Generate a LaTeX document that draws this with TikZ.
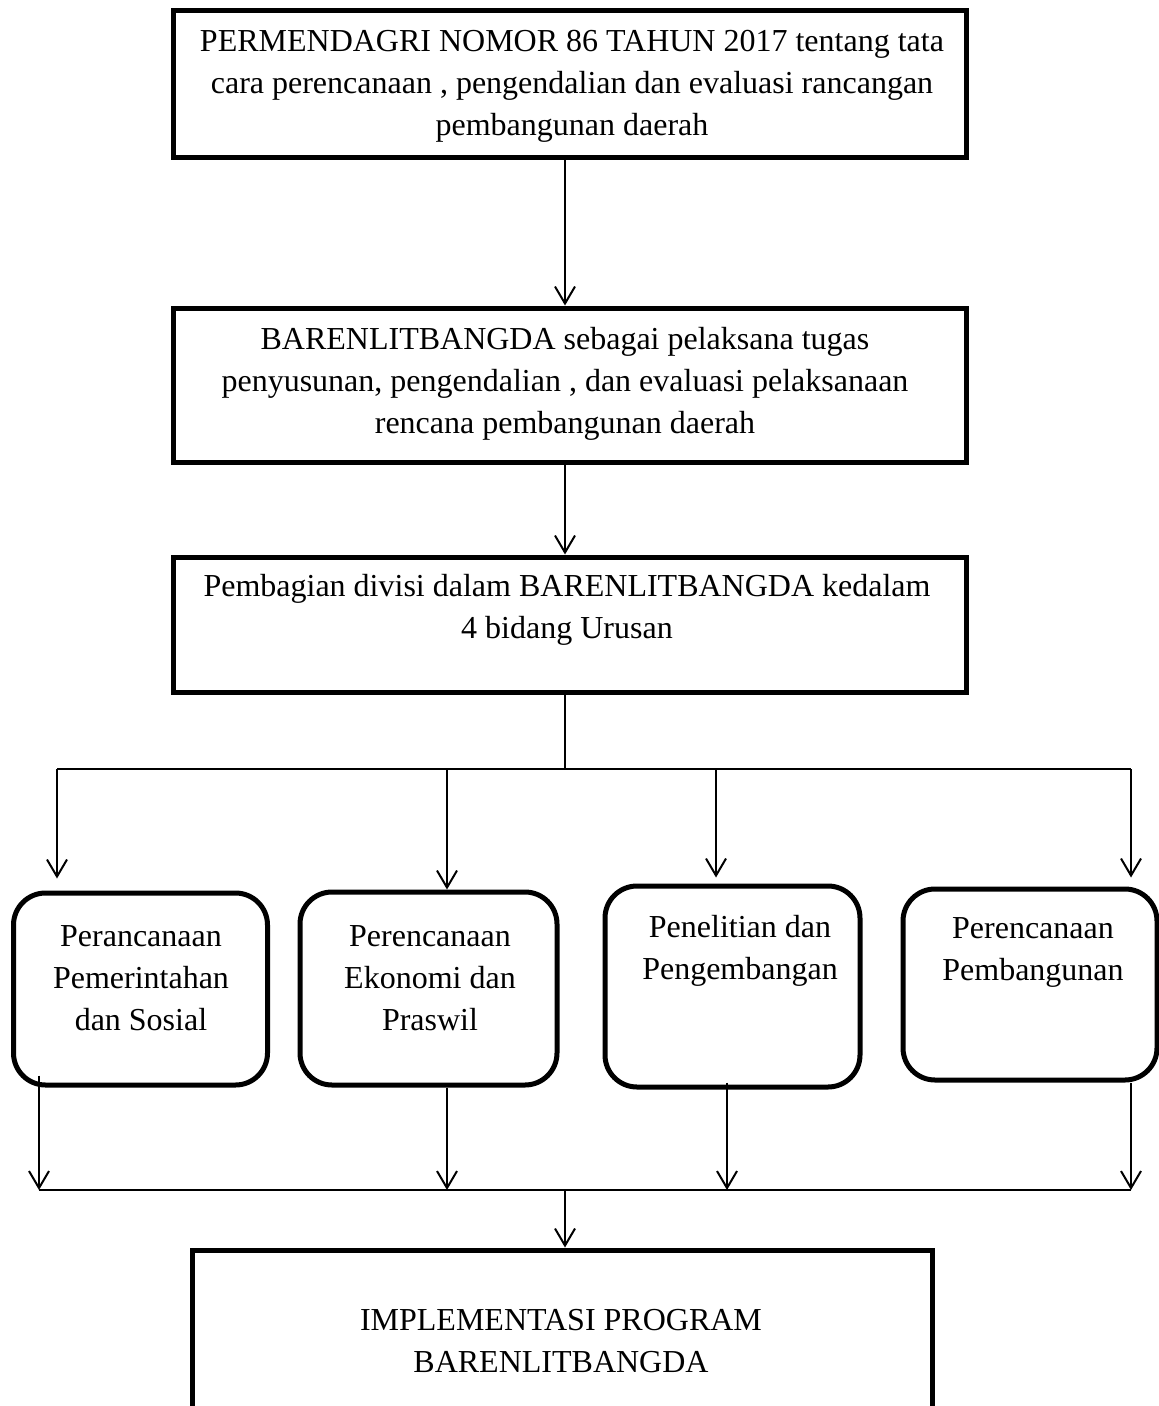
\documentclass[tikz,border=0pt]{standalone}
\usepackage{fontspec}
\setmainfont{Liberation Serif}
\usetikzlibrary{arrows.meta,calc}
\begin{document}
\begin{tikzpicture}[x=1pt,y=-1pt,
  sqbox/.style={draw,line width=5pt,rectangle,inner sep=0pt},
  rbox/.style={draw,line width=5pt,rectangle,rounded corners=32pt,inner sep=0pt},
  txt/.style={align=center,font=\fontsize{32}{42}\selectfont,inner sep=0pt},
  conn/.style={line width=2pt},
  arr/.style={line width=2pt,-{Straight Barb[length=17pt,width=20pt]}}]
\useasboundingbox (0,0) rectangle (1159,1406);
\clip (0,0) rectangle (1159,1406);

% main boxes
\node[sqbox,minimum width=793pt,minimum height=147pt] (box1) at (569.5,83.5) {};
\node[sqbox,minimum width=793pt,minimum height=154pt] (box2) at (569.5,385) {};
\node[sqbox,minimum width=793pt,minimum height=135pt] (box3) at (569.5,624.5) {};
\node[sqbox,minimum width=740pt,minimum height=180pt] (box4) at (562,1340) {};

% rounded boxes
\node[rbox,minimum width=254pt,minimum height=192pt] (r1) at (140.5,989) {};
\node[rbox,minimum width=257pt,minimum height=193pt] (r2) at (428.5,988.5) {};
\node[rbox,minimum width=255pt,minimum height=201pt] (r3) at (732.5,986.5) {};
\node[rbox,minimum width=254pt,minimum height=191pt] (r4) at (1030,984.5) {};

% texts
\node[txt] (t1) at (572,86) {PERMENDAGRI NOMOR 86 TAHUN 2017 tentang tata\\cara perencanaan , pengendalian dan evaluasi rancangan\\pembangunan daerah};
\node[txt] (t2) at (565,384) {BARENLITBANGDA sebagai pelaksana tugas\\penyusunan, pengendalian , dan evaluasi pelaksanaan\\rencana pembangunan daerah};
\node[txt] (t3) at (567,610) {Pembagian divisi dalam BARENLITBANGDA kedalam\\4 bidang Urusan};
\node[txt] (tr1) at (141,978) {Perancanaan\\Pemerintahan\\dan Sosial};
\node[txt] (tr2) at (430,978) {Perencanaan\\Ekonomi dan\\Praswil};
\node[txt] (tr3) at (740,951) {Penelitian dan\\Pengembangan};
\node[txt] (tr4) at (1033,952) {Perencanaan\\Pembangunan};
\node[txt] (t4) at (561,1341) {IMPLEMENTASI PROGRAM\\BARENLITBANGDA};

% junction coordinates
\coordinate (tx) at (565,0);
\coordinate (split) at (565,769);
\coordinate (a1) at (57,769);
\coordinate (a2) at (447,769);
\coordinate (a3) at (716,769);
\coordinate (a4) at (1131,769);
\coordinate (b1) at (39,1190);
\coordinate (b2) at (447,1190);
\coordinate (b3) at (727,1190);
\coordinate (b4) at (1131,1190);
\coordinate (merge) at (565,1190);

% top chain
\draw[arr] (box1.south -| tx) -- (box2.north -| tx);
\draw[arr] (box2.south -| tx) -- (box3.north -| tx);
\draw[conn] (box3.south -| tx) -- (split);
\draw[conn] (a1) -- (a4);

% into rounded boxes
\draw[arr] (a1) -- ($(r1.north -| a1)+(0,-12)$);
\draw[arr] (a2) -- (r2.north -| a2);
\draw[arr] (a3) -- ($(r3.north -| a3)+(0,-6)$);
\draw[arr] (a4) -- ($(r4.north -| a4)+(0,-9)$);

% out of rounded boxes
\draw[arr] ($(r1.south -| b1)+(0,-12)$) -- (b1);
\draw[arr] (r2.south -| b2) -- (b2);
\draw[arr] ($(r3.south -| b3)+(0,-7)$) -- (b3);
\draw[arr] (r4.south -| b4) -- (b4);
\draw[conn] (b1) -- (b4);

% to final box
\draw[arr] (merge) -- (box4.north -| merge);
\end{tikzpicture}
\end{document}
